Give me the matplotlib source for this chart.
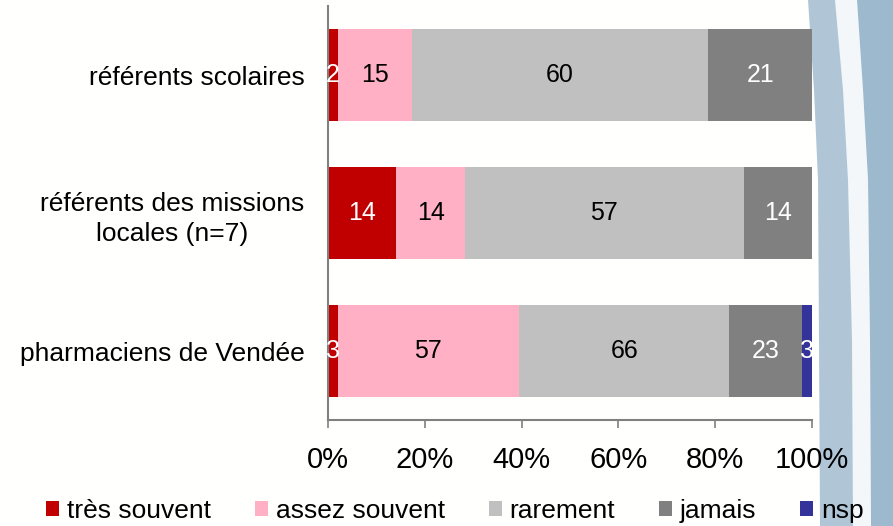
import matplotlib
matplotlib.use("Agg")
import matplotlib.pyplot as plt
from matplotlib.patches import Polygon
import numpy as np

plt.rcParams['font.family'] = ['Liberation Sans', 'DejaVu Sans']

# Data (counts, shown as 100% stacked bars)
categories = ["référents scolaires",
              "référents des missions\nlocales (n=7)",
              "pharmaciens de Vendée"]
series = ["très souvent", "assez souvent", "rarement", "jamais", "nsp"]
tres_souvent = [2, 14, 3]
assez_souvent = [15, 14, 57]
rarement = [60, 57, 66]
jamais = [21, 14, 23]
nsp = [0, 0, 3]
colors = ["#C00000", "#FFB0C4", "#C0C0C0", "#808080", "#333399"]
label_colors = ["white", "black", "black", "white", "white"]
xticks = [0, 20, 40, 60, 80, 100]

W, H = 893, 526
fig = plt.figure(figsize=(W / 100, H / 100), dpi=100)
fig.patch.set_facecolor("#FFFFFD")

# decorative background swoosh on the right
def fpoly(pts, color):
    xy = [(x / W, 1 - y / H) for x, y in pts]
    fig.patches.append(Polygon(xy, closed=True, transform=fig.transFigure,
                               facecolor=color, edgecolor="none", zorder=-10))

left_edge = [(808, 0), (814, 90), (818, 180), (819, 340), (820, 526)]
white_l = [(835, 0), (843, 90), (848, 180), (852, 340), (853, 526)]
white_r = [(857, 0), (863, 90), (868, 180), (870, 340), (871, 526)]
fpoly(left_edge + [(W, 526), (W, 0)], "#B0C6D7")
fpoly(white_r + [(W, 526), (W, 0)], "#9CB9CE")
fpoly(white_l + white_r[::-1], "#F3F7FA")

ax = fig.add_axes([328 / W, 1 - 420 / H, (812 - 328) / W, (420 - 6) / H])
ax.patch.set_visible(False)

data = np.array([tres_souvent, assez_souvent, rarement, jamais, nsp], dtype=float)
pct = data / data.sum(axis=0) * 100
y = np.arange(len(categories))
left = np.zeros(len(categories))
handles = []
for i, name in enumerate(series):
    bars = ax.barh(y, pct[i], left=left, height=0.66, color=colors[i],
                   label=name, zorder=2)
    handles.append(bars)
    for j in range(len(categories)):
        if data[i, j] > 0:
            ax.text(left[j] + pct[i, j] / 2, y[j], "%d" % data[i, j],
                    ha="center", va="center", fontsize=18,
                    color=label_colors[i], zorder=3)
    left += pct[i]

ax.set_xlim(0, 100)
ax.set_ylim(2.5, -0.5)
ax.set_yticks(y)
ax.set_yticklabels(categories, fontsize=19, multialignment="center",
                   linespacing=1.35)
ax.tick_params(axis="y", length=0, pad=17)
ax.set_xticks(xticks)
ax.set_xticklabels(["%d%%" % t for t in xticks], fontsize=21)
ax.tick_params(axis="x", direction="out", length=6, width=1.2,
               color="#808080", pad=13)
for s in ["top", "right"]:
    ax.spines[s].set_visible(False)
for s in ["left", "bottom"]:
    ax.spines[s].set_color("#808080")
    ax.spines[s].set_linewidth(1.5)

fig.legend(handles, series, loc="center", bbox_to_anchor=(455 / W, 1 - 511 / H),
           ncol=5, frameon=False, fontsize=19, handlelength=0.5,
           handleheight=0.5, handletextpad=0.3, columnspacing=1.65,
           borderaxespad=0)

fig.savefig("out.png", dpi=100, facecolor=fig.get_facecolor())
